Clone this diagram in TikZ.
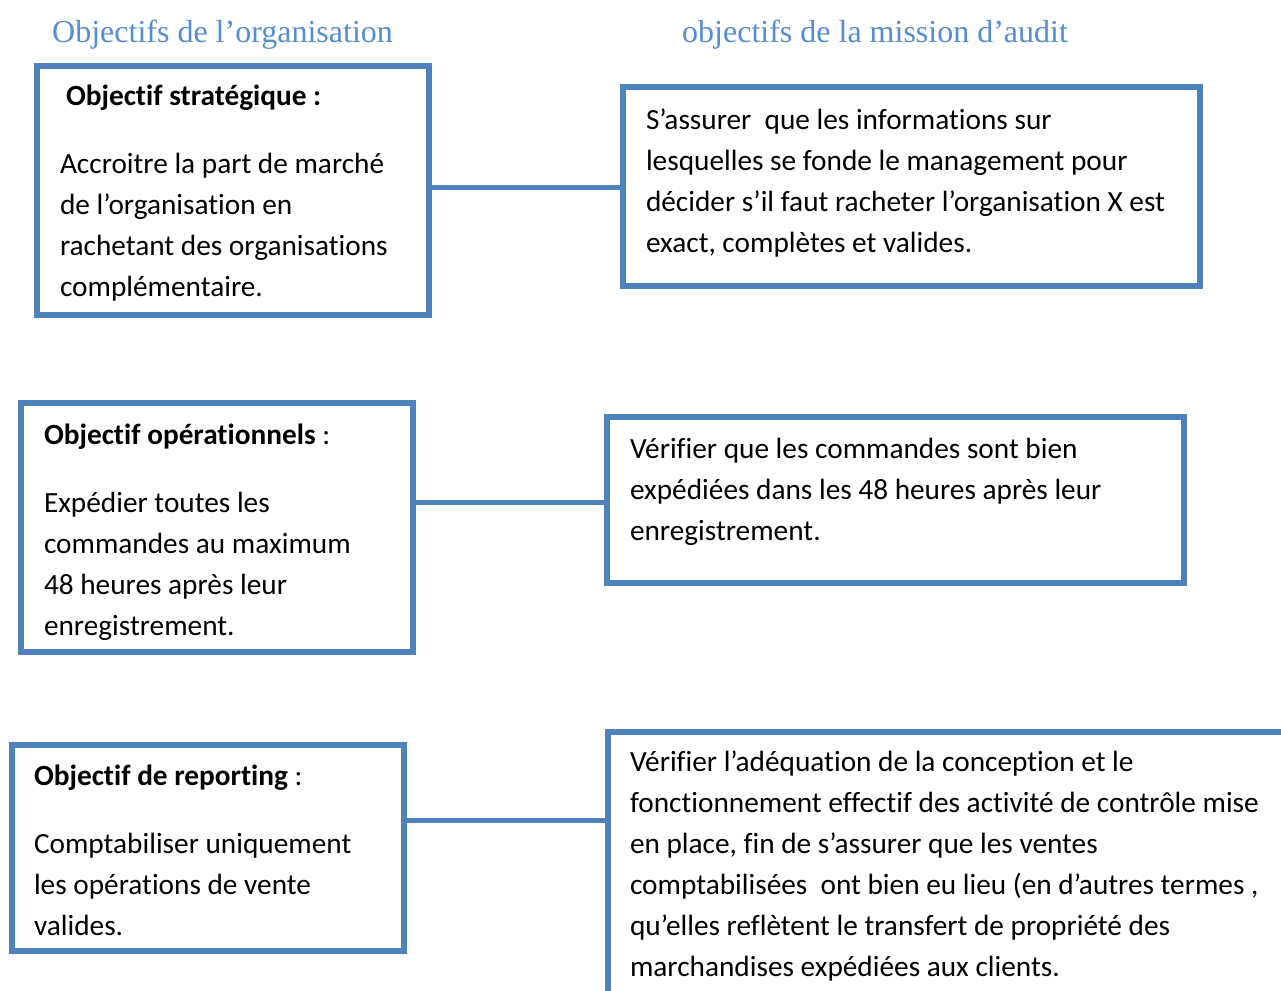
\documentclass[tikz,border=0pt]{standalone}
\usepackage{fontspec}
\setmainfont{Carlito}[Ligatures={NoCommon}]
\newfontfamily\titlefont{Liberation Serif}
\definecolor{bordblue}{RGB}{79,129,189}
\definecolor{titleblue}{RGB}{84,141,212}
\newcommand{\bodytext}[2]{\parbox[t]{#1}{\raggedright\fontsize{29.3}{41}\selectfont #2}}
\begin{document}
\begin{tikzpicture}[x=1pt,y=-1pt,
  box/.style={draw=bordblue,line width=6pt,rectangle,outer sep=0pt,inner sep=0pt},
  conn/.style={draw=bordblue,line width=5pt},
  txt/.style={anchor=base west,inner sep=0pt,outer sep=0pt},
  head/.style={anchor=base west,inner sep=0pt,outer sep=0pt,font=\fontsize{29.3}{41}\selectfont},
  ttl/.style={anchor=base west,inner sep=0pt,text=titleblue,font=\titlefont\fontsize{32}{38}\selectfont}]
\useasboundingbox (0,0) rectangle (1281,990);
\clip (0,0) rectangle (1281,990);

% titles
\node[ttl] (t1) at (52,43) {Objectifs de l’organisation};
\node[ttl] (t2) at (682,43) {objectifs de la mission d’audit};

% boxes
\node[box,minimum width=392pt,minimum height=249.3pt] (l1) at (233,190.7) {};
\node[box,minimum width=576.4pt,minimum height=198.8pt] (r1) at (911.5,186.1) {};
\node[box,minimum width=392.6pt,minimum height=248.7pt] (l2) at (217,527.7) {};
\node[box,minimum width=576.4pt,minimum height=165.8pt] (r2) at (895.5,499.6) {};
\node[box,minimum width=392pt,minimum height=206pt] (l3) at (207.5,847.5) {};
\node[box,minimum width=720pt,minimum height=300pt] (r3) at (967.5,881.5) {};

% connectors
\coordinate (c1) at (0,187);
\coordinate (c2) at (0,502);
\coordinate (c3) at (0,820);
\draw[conn] (l1.east |- c1) -- (r1.west |- c1);
\draw[conn] (l2.east |- c2) -- (r2.west |- c2);
\draw[conn] (l3.east |- c3) -- (r3.west |- c3);

% texts box 1
\node[head] (h1) at (66,105) {\textbf{Objectif stratégique :}};
\node[txt] (b1) at (60,173) {\bodytext{360pt}{Accroitre la part de marché\\de l’organisation en\\rachetant des organisations\\complémentaire.}};
\node[txt] (rb1) at (646,129) {\bodytext{545pt}{S’assurer\ \ que les informations sur\\lesquelles se fonde le management pour\\décider s’il faut racheter l’organisation X est\\exact, complètes et valides.}};

% texts box 2
\node[head] (h2) at (44,444) {\textbf{Objectif opérationnels} :};
\node[txt] (b2) at (44,512) {\bodytext{360pt}{Expédier toutes les\\commandes au maximum\\48 heures après leur\\enregistrement.}};
\node[txt] (rb2) at (630,458) {\bodytext{545pt}{Vérifier que les commandes sont bien\\expédiées dans les 48 heures après leur\\enregistrement.}};

% texts box 3
\node[head] (h3) at (34,785) {\textbf{Objectif de reporting} :};
\node[txt] (b3) at (34,853) {\bodytext{360pt}{Comptabiliser uniquement\\les opérations de vente\\valides.}};
\node[txt] (rb3) at (630,771) {\bodytext{648pt}{Vérifier l’adéquation de la conception et le\\fonctionnement effectif des activité de contrôle mise\\en place, fin de s’assurer que les ventes\\comptabilisées\ \ ont bien eu lieu (en d’autres termes ,\\qu’elles reflètent le transfert de propriété des\\marchandises expédiées aux clients.}};
\end{tikzpicture}
\end{document}
